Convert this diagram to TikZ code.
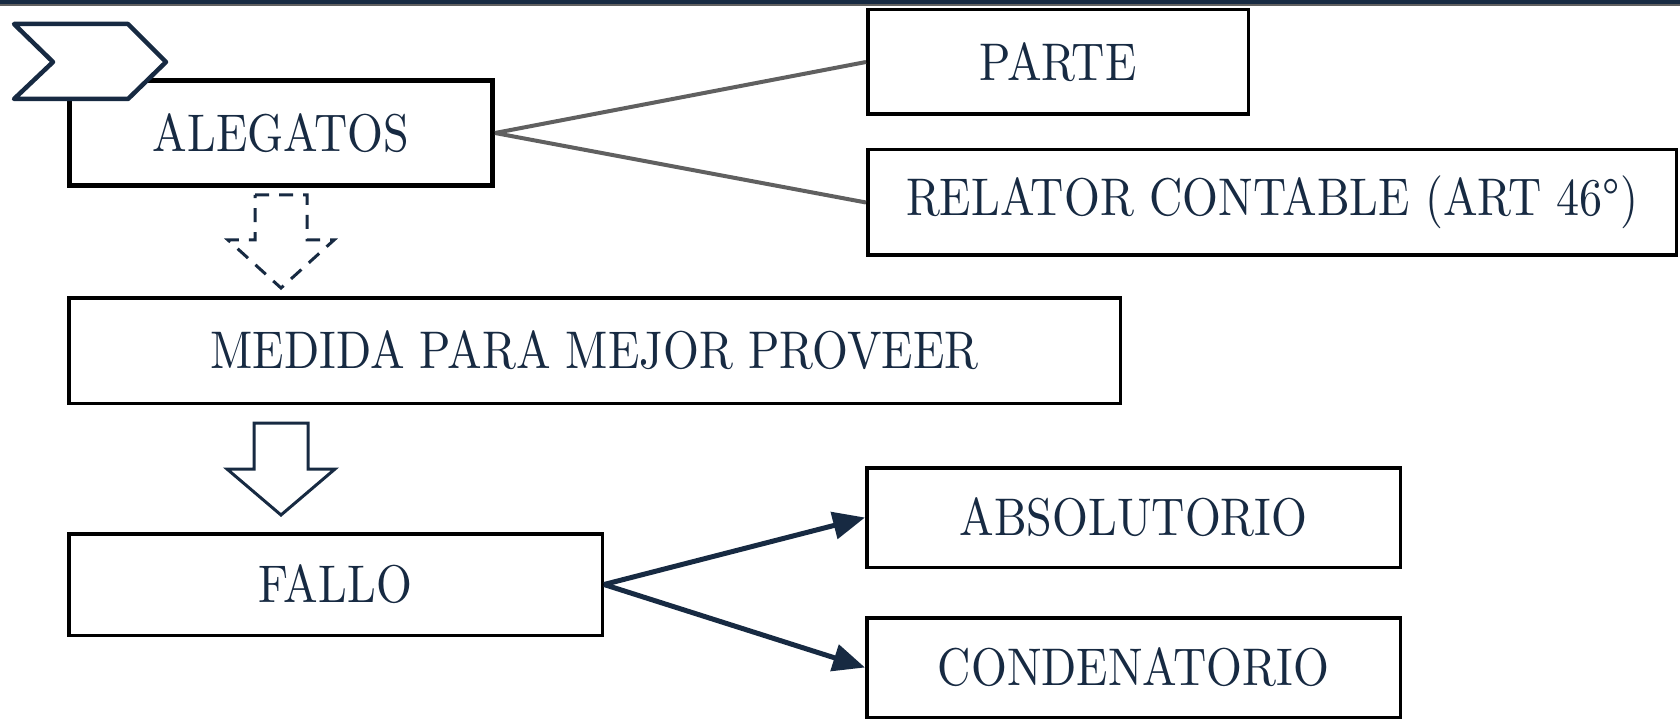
\documentclass[tikz,border=0pt]{standalone}
\usepackage{fontspec}
\setmainfont{lmroman10-regular}[Extension=.otf, FakeStretch=0.87]
\usepackage{xcolor}
\usepackage{tikz}
\usetikzlibrary{arrows.meta, positioning, calc}

\definecolor{navy}{RGB}{23,42,66}
\definecolor{linegray}{RGB}{96,96,96}

\begin{document}
\begin{tikzpicture}[
    x=1pt, y=-1pt,
    % estilos
    box/.style={
        draw=black, fill=white, line width=3.5pt, align=center, inner sep=0pt,
        text=navy, font=\fontsize{53}{58}\selectfont
    },
    main_box/.style={
        box, line width=5pt
    },
    branch_line/.style={
        draw=linegray, line width=4pt
    },
    result_arrow/.style={
        draw=navy, line width=5pt, -{Triangle[length=32pt, width=27pt]}
    },
    block_arrow/.style={
        draw=navy, line width=3pt, fill=white, miter limit=4
    },
    tag_shape/.style={
        draw=navy, line width=4.5pt, fill=white, line join=round
    }
]
    \useasboundingbox (0,0) rectangle (1680,719);

    % --- 0. BARRA SUPERIOR ---
    \fill[navy] (0,0) rectangle (1680,4);
    \draw[linegray, line width=1.5pt] (0,4.8) -- (1680,4.8);

    % --- 1. ALEGATOS ---
    \node[main_box, minimum width=423pt, minimum height=105pt] (alegatos) at (281,133) {ALEGATOS};

    % chevron encima de la esquina
    \draw[tag_shape] (14,24) -- (128,24) -- (166,62) -- (128,99) -- (14,99) -- (53,62) -- cycle;

    % --- 2. PARTE / RELATOR ---
    \node[box, minimum width=380.5pt, minimum height=104.5pt] (parte) at (1058,62) {PARTE};
    \node[box, minimum width=808.5pt, minimum height=105.5pt] (relator) at (1272,202.5) {RELATOR CONTABLE (ART 46°)};

    \draw[branch_line] (alegatos.east) -- (parte.west);
    \draw[branch_line] (alegatos.east) -- (relator.west);

    % flecha punteada
    \draw[block_arrow, dash pattern=on 14pt off 10pt]
        ($(alegatos.south)+(-26,7)$) -- ++(52,0) -- ++(0,45) -- ++(27,0)
        -- ++(-53,48) -- ++(-53,-48) -- ++(27,0) -- cycle;

    % --- 3. MEDIDA PARA MEJOR PROVEER ---
    \node[box, minimum width=1051.5pt, minimum height=105.5pt] (medida) at (594.5,350.5) {MEDIDA PARA MEJOR PROVEER};

    % flecha solida
    \draw[block_arrow]
        ($(alegatos.south |- medida.south)+(-27,18)$) -- ++(54,0) -- ++(0,46) -- ++(27,0)
        -- ++(-54,46) -- ++(-54,-46) -- ++(27,0) -- cycle;

    % --- 4. FALLO ---
    \node[box, minimum width=533.5pt, minimum height=101.5pt] (fallo) at (335.5,584.5) {FALLO};

    \node[box, minimum width=533.5pt, minimum height=99.5pt] (absolutorio) at (1133.5,517.5) {ABSOLUTORIO};
    \node[box, minimum width=533.5pt, minimum height=99.5pt, below=47pt of absolutorio] (condenatorio) {CONDENATORIO};

    \draw[result_arrow] (fallo.east) -- (absolutorio.west);
    \draw[result_arrow] (fallo.east) -- (condenatorio.west);

\end{tikzpicture}
\end{document}
